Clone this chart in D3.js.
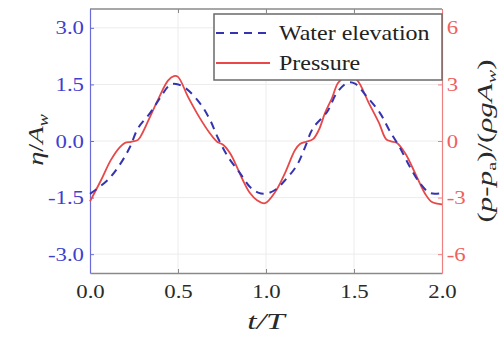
<!DOCTYPE html>
<html>
<head>
<meta charset="utf-8">
<script src="https://cdn.jsdelivr.net/npm/d3@7"></script>
<style>
  body { margin: 0; background: #fff; }
  text { font-family: "Liberation Serif", "Times New Roman", serif; }
</style>
</head>
<body>
<div id="root"></div>
<script>
const width = 504;
const height = 337;
const margin = {top: 9, right: 62, bottom: 64, left: 90};

// water elevation, eta / A_w
const etaT = [0, 0.102, 0.176, 0.227, 0.273, 0.341, 0.398, 0.455, 0.489, 0.540, 0.625, 0.682, 0.727, 0.784, 0.852, 0.909, 0.955, 0.994,
  1.051, 1.108, 1.176, 1.222, 1.267, 1.347, 1.403, 1.466, 1.506, 1.574, 1.648, 1.699, 1.761, 1.818, 1.875, 1.932, 2.0];
const etaV = [-1.40, -1.03, -0.58, -0.16, 0.34, 0.74, 1.14, 1.49, 1.51, 1.41, 1.0, 0.56, 0.08, -0.42, -0.85, -1.22, -1.37, -1.40,
  -1.30, -1.04, -0.64, -0.16, 0.34, 0.77, 1.28, 1.55, 1.52, 1.17, 0.74, 0.30, -0.18, -0.69, -1.12, -1.38, -1.38];

// pressure, (p - p_a) / (rho g A_w)
const presT = [0, 0.0625, 0.119, 0.170, 0.199, 0.233, 0.273, 0.301, 0.341, 0.386, 0.443, 0.477, 0.5, 0.557, 0.62, 0.682, 0.722, 0.756,
  0.795, 0.835, 0.869, 0.909, 0.949, 0.994,
  1.051, 1.108, 1.165, 1.193, 1.227, 1.267, 1.301, 1.335, 1.375, 1.409, 1.449, 1.477, 1.517, 1.585, 1.642, 1.682, 1.71, 1.744,
  1.79, 1.847, 1.903, 1.943, 2.0];
const presV = [-3.2, -2.08, -1.0, -0.32, -0.1, -0.04, 0.06, 0.48, 1.28, 2.18, 3.2, 3.44, 3.4, 2.34, 1.28, 0.4, -0.04, -0.2,
  -0.64, -1.38, -2.08, -2.76, -3.14, -3.3,
  -2.72, -1.7, -0.48, -0.16, -0.04, 0.1, 0.6, 1.48, 2.28, 3.08, 3.4, 3.44, 3.24, 2.0, 0.96, 0.1, -0.02, -0.1,
  -0.64, -1.7, -2.78, -3.24, -3.36];

const xTicks = [0, 0.5, 1.0, 1.5, 2.0];
const leftTicks = [-3, -1.5, 0, 1.5, 3];
const rightTicks = [-6, -3, 0, 3, 6];
const legendNames = ['Water elevation', 'Pressure'];

const blue = '#3434b0';
const red = '#e84848';
const stretch = 'scale(1.2,1)';

const svg = d3.select('#root').append('svg')
  .attr('width', width)
  .attr('height', height);

const w = width - margin.left - margin.right;
const h = height - margin.top - margin.bottom;
const g = svg.append('g').attr('transform', `translate(${margin.left},${margin.top})`);

const x = d3.scaleLinear().domain([0, 2]).range([0, w]);
const yL = d3.scaleLinear().domain([-3.5, 3.5]).range([h, 0]);
const yR = d3.scaleLinear().domain([-7, 7]).range([h, 0]);

// grid
g.append('g').selectAll('line').data(xTicks.slice(1, -1)).enter().append('line')
  .attr('x1', d => x(d)).attr('x2', d => x(d)).attr('y1', 0).attr('y2', h)
  .attr('stroke', '#ececec');
g.append('g').selectAll('line').data(leftTicks).enter().append('line')
  .attr('x1', 0).attr('x2', w).attr('y1', d => yL(d)).attr('y2', d => yL(d))
  .attr('stroke', '#ececec');

// box top
g.append('line').attr('x1', 0).attr('x2', w).attr('y1', 0).attr('y2', 0).attr('stroke', '#8a8a8a').attr('stroke-width', 1.5);

// axes
const xAxis = g.append('g').attr('transform', `translate(0,${h})`)
  .call(d3.axisBottom(x).tickValues(xTicks).tickFormat(d3.format('.1f')).tickSizeInner(-4).tickSizeOuter(0).tickPadding(12));
xAxis.select('.domain').attr('stroke', '#8a8a8a').attr('stroke-width', 1.5);
xAxis.selectAll('line').attr('stroke', '#8a8a8a');
xAxis.selectAll('text').attr('font-size', 19).attr('fill', '#2a2a2a').attr('transform', stretch);

const topTicks = g.append('g')
  .call(d3.axisTop(x).tickValues(xTicks).tickFormat('').tickSizeInner(-4).tickSizeOuter(0));
topTicks.select('.domain').remove();
topTicks.selectAll('line').attr('stroke', '#8a8a8a');

const lAxis = g.append('g')
  .call(d3.axisLeft(yL).tickValues(leftTicks).tickFormat(d3.format('.1f')).tickSizeInner(-4).tickSizeOuter(0).tickPadding(5));
lAxis.select('.domain').attr('stroke', '#6a6ad8').attr('stroke-width', 1.2);
lAxis.selectAll('line').attr('stroke', '#6a6ad8');
lAxis.selectAll('text').attr('font-size', 19).attr('fill', '#4040d0').attr('transform', stretch)
  .text(d => d3.format('.1f')(d).replace('−', '-'));

const rAxis = g.append('g').attr('transform', `translate(${w},0)`)
  .call(d3.axisRight(yR).tickValues(rightTicks).tickFormat(d => String(d)).tickSizeInner(-4).tickSizeOuter(0).tickPadding(4));
rAxis.select('.domain').attr('stroke', '#f08080').attr('stroke-width', 1.2);
rAxis.selectAll('line').attr('stroke', '#f08080');
rAxis.selectAll('text').attr('font-size', 19).attr('fill', '#f06060').attr('transform', stretch);

// lines
const etaData = etaT.map((t, i) => [t, etaV[i]]);
const presData = presT.map((t, i) => [t, presV[i]]);

g.append('path').datum(presData)
  .attr('fill', 'none').attr('stroke', red).attr('stroke-width', 1.8)
  .attr('d', d3.line().x(d => x(d[0])).y(d => yR(d[1])).curve(d3.curveCatmullRom));

g.append('path').datum(etaData)
  .attr('fill', 'none').attr('stroke', blue).attr('stroke-width', 2)
  .attr('stroke-dasharray', '8,6')
  .attr('d', d3.line().x(d => x(d[0])).y(d => yL(d[1])).curve(d3.curveCatmullRom));

// legend
const lg = svg.append('g').attr('transform', 'translate(214,14)');
lg.append('rect').attr('width', 228).attr('height', 66)
  .attr('fill', '#fff').attr('stroke', '#6a6a6a').attr('stroke-width', 1.5);
const legendItems = lg.selectAll('g.item').data(legendNames).enter().append('g')
  .attr('transform', (d, i) => `translate(0,${19 + i * 30})`);
legendItems.append('line').attr('x1', 2).attr('x2', 56)
  .attr('stroke', (d, i) => i === 0 ? blue : red)
  .attr('stroke-width', (d, i) => i === 0 ? 2 : 1.8)
  .attr('stroke-dasharray', (d, i) => i === 0 ? '8,6' : null);
legendItems.append('text').attr('transform', 'translate(65,7) scale(1.2,1)')
  .attr('font-size', 20).attr('fill', '#222').text(d => d);

// axis titles
svg.append('text').attr('transform', `translate(${margin.left + w / 2},329) scale(1.4,1)`)
  .attr('text-anchor', 'middle').attr('font-size', 24).attr('font-style', 'italic').attr('fill', '#2a2a2a')
  .text('t/T');

const yl = svg.append('text').attr('transform', 'translate(43,140) rotate(-90) scale(1.3,1)')
  .attr('text-anchor', 'middle').attr('font-size', 22).attr('fill', '#2a2a2a');
yl.append('tspan').attr('font-style', 'italic').text('η');
yl.append('tspan').text('/');
yl.append('tspan').attr('font-style', 'italic').text('A');
yl.append('tspan').attr('font-style', 'italic').attr('font-size', 14).attr('dy', 5).text('w');

const yr = svg.append('text').attr('transform', 'translate(492,141) rotate(-90) scale(1.55,1)')
  .attr('text-anchor', 'middle').attr('font-size', 20).attr('fill', '#2a2a2a');
yr.append('tspan').text('(');
yr.append('tspan').attr('font-style', 'italic').text('p');
yr.append('tspan').text('-');
yr.append('tspan').attr('font-style', 'italic').text('p');
yr.append('tspan').attr('font-size', 13).attr('dy', 4).text('a');
yr.append('tspan').attr('dy', -4).text(')/(');
yr.append('tspan').attr('font-style', 'italic').text('ρgA');
yr.append('tspan').attr('font-style', 'italic').attr('font-size', 13).attr('dy', 4).text('w');
yr.append('tspan').attr('dy', -4).text(')');
</script>
</body>
</html>
